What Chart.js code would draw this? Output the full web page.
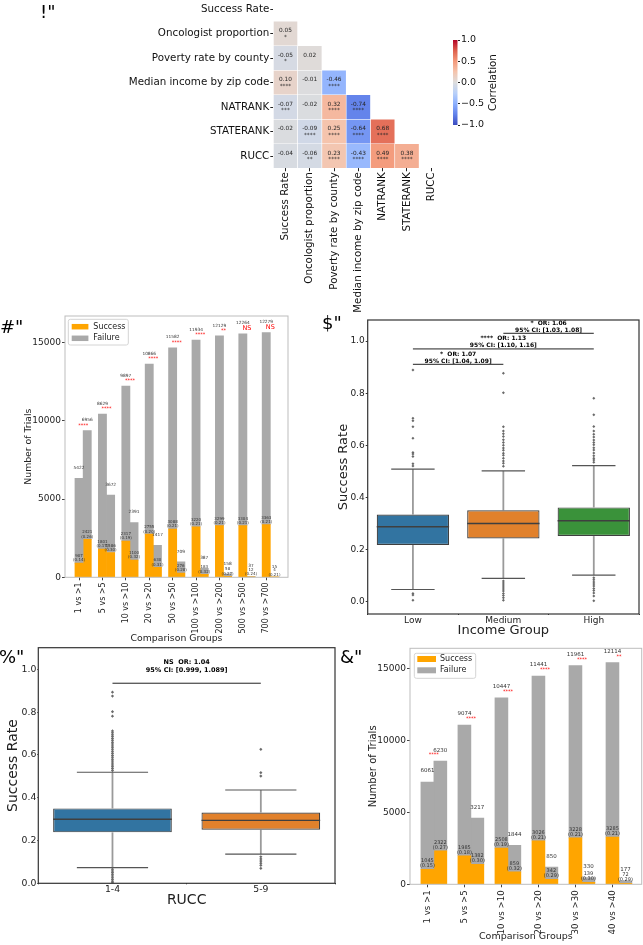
<!DOCTYPE html>
<html>
<head>
<meta charset="utf-8">
<title>Trial success figure</title>
<script src="https://cdn.jsdelivr.net/npm/chart.js@4.4.1/dist/chart.umd.min.js"></script>
<style>
  html, body { margin: 0; padding: 0; background: #fff; }
  body { position: relative; width: 643px; height: 945px; overflow: hidden; font-family: "DejaVu Sans", sans-serif; }
  canvas { position: absolute; }
  .tag { position: absolute; font-size: 18px; line-height: 18px; color: #000; }
</style>
</head>
<body>
<canvas id="heat" width="460" height="330" style="left:0;top:-10px"></canvas>
<canvas id="cbar" width="80" height="110" style="left:440px;top:30px"></canvas>
<canvas id="trials1" width="300" height="350" style="left:0;top:300px"></canvas>
<canvas id="income" width="323" height="345" style="left:320px;top:300px"></canvas>
<canvas id="rucc" width="340" height="305" style="left:0;top:640px"></canvas>
<canvas id="trials2" width="303" height="305" style="left:340px;top:640px"></canvas>
<div class="tag" style="left:40px;top:3px">!"</div>
<div class="tag" style="left:0;top:318px">#"</div>
<div class="tag" style="left:322px;top:314px">$"</div>
<div class="tag" style="left:-1px;top:648px">%"</div>
<div class="tag" style="left:340px;top:648px">&amp;"</div>

<script>
// ===== DATA: PANEL A (correlation heatmap) =====
const corrLabels = ['Success Rate', 'Oncologist proportion', 'Poverty rate by county',
  'Median income by zip code', 'NATRANK', 'STATERANK', 'RUCC'];
const corrValues = [
  [],
  [0.05],
  [-0.05, 0.02],
  [0.10, -0.01, -0.46],
  [-0.07, -0.02, 0.32, -0.74],
  [-0.02, -0.09, 0.25, -0.64, 0.68],
  [-0.04, -0.06, 0.23, -0.43, 0.49, 0.38]
];
const corrStars = [
  [],
  ['*'],
  ['*', ''],
  ['****', '', '****'],
  ['***', '', '****', '****'],
  ['', '****', '****', '****', '****'],
  ['', '**', '****', '****', '****', '****']
];
const cbTicks = [-1, -0.5, 0, 0.5, 1];

// ===== DATA: PANEL B (trials, 1..700) =====
const bGroups = ['1 vs >1', '5 vs >5', '10 vs >10', '20 vs >20', '50 vs >50',
  '100 vs >100', '200 vs >200', '500 vs >500', '700 vs >700'];
const bLeftSuccess = [907, 1801, 2317, 2755, 3088, 3220, 3299, 3304, 3363];
const bLeftFailure = [5422, 8629, 9897, 10866, 11582, 11934, 12129, 12264, 12279];
const bRightSuccess = [2421, 1586, 1100, 630, 276, 183, 58, 12, 4];
const bRightFailure = [6956, 3672, 2391, 1417, 709, 387, 158, 37, 15];
const bStars = ['****', '****', '****', '****', '****', '****', '**', 'NS', 'NS'];

// ===== DATA: PANEL C (income group boxplot) =====
const incomeGroups = ['Low', 'Medium', 'High'];
const incomeWhiskerLow = [0.047, 0.090, 0.102];
const incomeQ1 = [0.218, 0.243, 0.252];
const incomeMedian = [0.288, 0.300, 0.311];
const incomeQ3 = [0.335, 0.351, 0.362];
const incomeWhiskerHigh = [0.509, 0.502, 0.522];
const incomeOutliers = [
  [0.889, 0.704, 0.694, 0.671, 0.627, 0.573, 0.567, 0.557, 0.529, 0.521, 0.032, 0.026, 0.006],
  [0.877, 0.802, 0.671, 0.655, 0.645, 0.634, 0.622, 0.611, 0.600, 0.590, 0.581, 0.570, 0.562,
    0.551, 0.540, 0.531, 0.520, 0.080, 0.072, 0.064, 0.057, 0.049, 0.041, 0.032, 0.024, 0.015, 0.006],
  [0.781, 0.717, 0.672, 0.655, 0.643, 0.632, 0.621, 0.611, 0.602, 0.591, 0.582, 0.571, 0.560,
    0.551, 0.544, 0.535, 0.092, 0.084, 0.076, 0.068, 0.060, 0.051, 0.043, 0.034, 0.022, 0.004]
];
const incomePairs = [[0, 1], [0, 2], [1, 2]];
const incomePairY = [0.911, 0.970, 1.030];
const incomePairText = [
  ['*  OR: 1.07', '95% CI: [1.04, 1.09]'],
  ['****  OR: 1.13', '95% CI: [1.10, 1.16]'],
  ['*  OR: 1.06', '95% CI: [1.03, 1.08]']
];
const rateTicks = [0, 0.2, 0.4, 0.6, 0.8, 1.0];

// ===== DATA: PANEL D (trials, 1..40) =====
const dGroups = ['1 vs >1', '5 vs >5', '10 vs >10', '20 vs >20', '30 vs >30', '40 vs >40'];
const dLeftSuccess = [1045, 1985, 2508, 3026, 3228, 3285];
const dLeftFailure = [6061, 9074, 10447, 11441, 11961, 12114];
const dRightSuccess = [2322, 1382, 859, 342, 139, 72];
const dRightFailure = [6230, 3217, 1844, 850, 330, 177];
const dStars = ['****', '****', '****', '****', '****', '**'];
const trialTicks = [0, 5000, 10000, 15000];

// ===== DATA: PANEL E (RUCC boxplot) =====
const ruccGroups = ['1-4', '5-9'];
const ruccWhiskerLow = [0.073, 0.136];
const ruccQ1 = [0.238, 0.250];
const ruccMedian = [0.299, 0.294];
const ruccQ3 = [0.350, 0.331];
const ruccWhiskerHigh = [0.519, 0.436];
const ruccOutliers = [
  [0.893, 0.875, 0.802, 0.781, 0.712, 0.703, 0.694, 0.686, 0.677, 0.668, 0.659, 0.651, 0.642,
    0.633, 0.624, 0.615, 0.606, 0.597, 0.589, 0.580, 0.571, 0.562, 0.553, 0.545, 0.536, 0.527,
    0.066, 0.058, 0.050, 0.042, 0.034, 0.026, 0.018, 0.010, 0.003],
  [0.626, 0.517, 0.501, 0.124, 0.114, 0.104, 0.094, 0.084, 0.070]
];
const ruccPairs = [[0, 1]];
const ruccPairY = [0.935];
const ruccPairText = [['NS  OR: 1.04', '95% CI: [0.999, 1.089]']];

// ===== SHARED SETUP =====
Chart.defaults.font.family = '"DejaVu Sans", sans-serif';
Chart.defaults.color = '#222';
Chart.defaults.animation = false;
Chart.defaults.responsive = false;
Chart.defaults.plugins.legend.display = false;
Chart.defaults.plugins.tooltip.enabled = false;

const ORANGE = '#ffa500';
const GRAY = '#a9a9a9';

// coolwarm colour stops
const COOLWARM = [
  [-1, [59, 76, 192]], [-0.75, [98, 130, 234]], [-0.5, [141, 176, 254]], [-0.25, [184, 208, 249]],
  [0, [221, 221, 221]], [0.25, [245, 196, 173]], [0.5, [244, 154, 123]], [0.75, [222, 96, 77]],
  [1, [180, 4, 38]]
];
function coolwarm(v) {
  for (let k = 1; k < COOLWARM.length; k++) {
    const [v0, c0] = COOLWARM[k - 1], [v1, c1] = COOLWARM[k];
    if (v <= v1) {
      const t = (v - v0) / (v1 - v0);
      return 'rgb(' + c0.map((c, n) => Math.round(c + (c1[n] - c) * t)).join(',') + ')';
    }
  }
  return 'rgb(180,4,38)';
}

function font(size, bold) {
  return (bold ? 'bold ' : '') + size + 'px "DejaVu Sans", sans-serif';
}

function stroke(ctx, x1, y1, x2, y2) {
  ctx.beginPath();
  ctx.moveTo(x1, y1);
  ctx.lineTo(x2, y2);
  ctx.stroke();
}

// pin axis size so the plot area lands where the reference has it
function fixAxis(size, horizontal) {
  return s => {
    if (horizontal) s.height = size; else s.width = size;
    s.paddingLeft = s.paddingRight = s.paddingTop = s.paddingBottom = 0;
  };
}

const framePlugin = {
  id: 'frame',
  afterDraw(chart, args, o) {
    if (!o.color) return;
    const {ctx, chartArea: a} = chart;
    ctx.save();
    ctx.strokeStyle = o.color;
    ctx.lineWidth = o.width || 1;
    ctx.strokeRect(a.left, a.top, a.right - a.left, a.bottom - a.top);
    ctx.restore();
  }
};

// ===== PANEL A: HEATMAP =====
const cellText = {
  id: 'cellText',
  afterDatasetsDraw(chart) {
    const {ctx, scales: {x, y}} = chart;
    ctx.save();
    ctx.fillStyle = '#262626';
    ctx.textAlign = 'center';
    ctx.textBaseline = 'middle';
    ctx.font = font(5.8);
    corrValues.forEach((row, i) => row.forEach((v, j) => {
      const px = x.getPixelForValue(j), py = y.getPixelForValue(i);
      ctx.fillText(v.toFixed(2), px, py - 3);
      ctx.fillText(corrStars[i][j], px, py + 3.5);
    }));
    ctx.restore();
  }
};

new Chart(document.getElementById('heat'), {
  type: 'bar',
  data: {
    datasets: corrValues.map((row, i) => ({
      data: row.map((v, j) => ({x: j, y: [i - 0.5, i + 0.5]})),
      backgroundColor: row.map(coolwarm),
      borderColor: '#fff',
      borderWidth: 0.6,
      borderSkipped: false,
      grouped: false,
      barPercentage: 1,
      categoryPercentage: 1
    }))
  },
  options: {
    layout: {padding: {left: 0, right: 16.6, top: 6.75, bottom: 0}},
    scales: {
      x: {
        type: 'linear', min: -0.5, max: 6.5, offset: false,
        afterBuildTicks: s => { s.ticks = corrLabels.map((l, j) => ({value: j})); },
        afterFit: fixAxis(151.75, true),
        ticks: {autoSkip: false, minRotation: 90, maxRotation: 90, padding: 1,
          font: {size: 10.3}, color: '#111', callback: v => corrLabels[v]},
        grid: {drawOnChartArea: false, offset: false, tickLength: 3, color: '#222'},
        border: {display: false}
      },
      y: {
        type: 'linear', reverse: true, min: -0.5, max: 6.5,
        afterBuildTicks: s => { s.ticks = corrLabels.map((l, i) => ({value: i})); },
        afterFit: fixAxis(273.3, false),
        ticks: {padding: 1, font: {size: 10.3}, color: '#111', callback: v => corrLabels[v]},
        grid: {drawOnChartArea: false, tickLength: 3, color: '#222'},
        border: {display: false}
      }
    }
  },
  plugins: [cellText]
});

// colour bar
const cbFill = {
  id: 'cbFill',
  beforeDatasetsDraw(chart) {
    const {ctx, chartArea: a, scales: {y}} = chart;
    const g = ctx.createLinearGradient(0, y.getPixelForValue(-1), 0, y.getPixelForValue(1));
    COOLWARM.forEach(([v, c]) => g.addColorStop((v + 1) / 2, 'rgb(' + c.join(',') + ')'));
    ctx.save();
    ctx.fillStyle = g;
    ctx.fillRect(a.left, a.top, a.right - a.left, a.bottom - a.top);
    ctx.translate(53, (a.top + a.bottom) / 2);
    ctx.rotate(-Math.PI / 2);
    ctx.fillStyle = '#111';
    ctx.font = font(10.3);
    ctx.textAlign = 'center';
    ctx.textBaseline = 'middle';
    ctx.fillText('Correlation', 0, 0);
    ctx.restore();
  }
};

new Chart(document.getElementById('cbar'), {
  type: 'bar',
  data: {labels: [''], datasets: []},
  options: {
    layout: {padding: {left: 13, right: 0, top: 10, bottom: 15}},
    scales: {
      x: {display: false},
      y: {
        position: 'right', min: -1, max: 1,
        afterBuildTicks: s => { s.ticks = cbTicks.map(v => ({value: v})); },
        afterFit: fixAxis(62.5, false),
        ticks: {padding: 1, font: {size: 9.5}, color: '#111',
          callback: v => (v < 0 ? '\u2212' : '') + Math.abs(v).toFixed(1)},
        grid: {drawOnChartArea: false, tickLength: 2.5, color: '#222'},
        border: {display: false}
      }
    }
  },
  plugins: [cbFill]
});

// ===== PANELS B & D: STACKED TRIAL BARS =====
function trialsChart(id, groups, lS, lF, rS, rF, stars, st) {
  const W = 0.35;
  const pts = (arr, off) => arr.map((v, i) => ({x: i + off, y: v}));

  const labels = {
    id: 'trialLabels',
    afterDatasetsDraw(chart) {
      const {ctx, scales: {x, y}} = chart;
      ctx.save();
      ctx.textAlign = 'center';
      ctx.textBaseline = 'middle';
      groups.forEach((g, i) => {
        let top = 0;
        [[i, lS[i], lF[i]], [i + W, rS[i], rF[i]]].forEach(([xv, s, f]) => {
          const px = x.getPixelForValue(xv), tot = s + f;
          top = Math.max(top, tot);
          ctx.fillStyle = '#333';
          ctx.font = font(st.failFont);
          ctx.fillText(String(f), px, y.getPixelForValue(tot) - st.failOffset);
          const ys = y.getPixelForValue(s);
          ctx.font = font(st.succFont);
          ctx.fillText(String(s), px, ys - st.succGap - st.succLine);
          ctx.fillText('(' + (s / tot).toFixed(2) + ')', px, ys - st.succGap);
        });
        ctx.fillStyle = 'red';
        ctx.font = font(stars[i] === 'NS' ? st.nsFont : st.starFont);
        ctx.fillText(stars[i], x.getPixelForValue(i + W / 2), y.getPixelForValue(top) - st.starOffset);
      });
      ctx.restore();
    }
  };

  const legendBox = {
    id: 'legendBox',
    afterDraw(chart) {
      const {ctx, chartArea: a} = chart, L = st.legend;
      ctx.save();
      ctx.fillStyle = 'rgba(255,255,255,0.85)';
      ctx.strokeStyle = '#d4d4d4';
      ctx.lineWidth = 1;
      ctx.beginPath();
      ctx.roundRect(a.left + L.x, a.top + L.y, L.w, L.h, 2);
      ctx.fill();
      ctx.stroke();
      chart.data.datasets.slice(0, 2).forEach((ds, k) => {
        const cy = a.top + L.rows[k];
        ctx.fillStyle = ds.backgroundColor;
        ctx.fillRect(a.left + L.patchX, cy - L.patchH / 2, L.patchW, L.patchH);
        ctx.fillStyle = '#222';
        ctx.font = font(L.font);
        ctx.textAlign = 'left';
        ctx.textBaseline = 'middle';
        ctx.fillText(ds.label, a.left + L.textX, cy);
      });
      ctx.restore();
    }
  };

  new Chart(document.getElementById(id), {
    type: 'bar',
    data: {
      datasets: [
        {label: 'Success', data: pts(lS, 0), backgroundColor: ORANGE},
        {label: 'Failure', data: pts(lF, 0), backgroundColor: GRAY},
        {label: 'Success', data: pts(rS, W), backgroundColor: ORANGE},
        {label: 'Failure', data: pts(rF, W), backgroundColor: GRAY}
      ]
    },
    options: {
      datasets: {bar: {barPercentage: 1, categoryPercentage: 1}},
      layout: {padding: st.padding},
      scales: {
        x: {
          type: 'linear', stacked: true, min: st.xMin, max: st.xMax, offset: false,
          afterBuildTicks: s => { s.ticks = groups.map((g, i) => ({value: i})); },
          afterFit: fixAxis(st.xHeight, true),
          ticks: {autoSkip: false, minRotation: 90, maxRotation: 90, padding: st.xTickPad,
            font: {size: st.xTickFont}, callback: v => groups[v]},
          grid: {drawOnChartArea: false, offset: false, tickLength: 3, color: '#444'},
          border: {display: false},
          title: {display: true, text: 'Comparison Groups', font: {size: st.xTitleFont},
            padding: {top: 0, bottom: st.xTitlePad}}
        },
        y: {
          stacked: true, min: 0, max: st.yMax,
          afterBuildTicks: s => { s.ticks = trialTicks.map(v => ({value: v})); },
          afterFit: fixAxis(st.yWidth, false),
          ticks: {padding: 1, font: {size: st.yTickFont}, callback: v => String(v)},
          grid: {drawOnChartArea: false, tickLength: 3, color: '#444'},
          border: {display: false},
          title: {display: true, text: 'Number of Trials', font: {size: st.yTitleFont},
            padding: {top: st.yTitlePad, bottom: 0}}
        }
      },
      plugins: {frame: {color: '#bdbdbd'}}
    },
    plugins: [framePlugin, labels, legendBox]
  });
}

trialsChart('trials1', bGroups, bLeftSuccess, bLeftFailure, bRightSuccess, bRightFailure, bStars, {
  xMin: -0.6, xMax: 8.93, yMax: 16700,
  padding: {left: 0, right: 12, top: 16, bottom: 0},
  yWidth: 65, xHeight: 72.7,
  xTickFont: 8, yTickFont: 9, xTickPad: 2,
  xTitleFont: 9.3, xTitlePad: 5.4, yTitleFont: 9.3, yTitlePad: 23.4,
  failFont: 4.3, succFont: 4, starFont: 5, nsFont: 6.5,
  failOffset: 10.5, succGap: 2.7, succLine: 4.3, starOffset: 5,
  legend: {x: 3.3, y: 3.3, w: 60, h: 25.7, font: 8, rows: [10.7, 22.3],
    patchX: 6.7, patchW: 16.7, patchH: 5.5, textX: 28.3}
});

trialsChart('trials2', dGroups, dLeftSuccess, dLeftFailure, dRightSuccess, dRightFailure, dStars, {
  xMin: -0.47, xMax: 5.79, yMax: 16390,
  padding: {left: 0, right: 1.3, top: 8.3, bottom: 0},
  yWidth: 70, xHeight: 60.7,
  xTickFont: 8.6, yTickFont: 9, xTickPad: 3,
  xTitleFont: 9.5, xTitlePad: 2.3, yTitleFont: 10, yTitlePad: 27.3,
  failFont: 5.5, succFont: 5, starFont: 5, nsFont: 6.5,
  failOffset: 11, succGap: 3.2, succLine: 5.2, starOffset: 6,
  legend: {x: 4.3, y: 5, w: 61.4, h: 25, font: 8, rows: [10.7, 22],
    patchX: 7.3, patchW: 18.7, patchH: 6, textX: 30}
});

// ===== PANELS C & E: BOXPLOTS =====
function boxChart(id, groups, wLo, q1, med, q3, wHi, outliers, colors, pairs, pairY, pairText, st) {
  const extras = {
    id: 'boxExtras',
    beforeDatasetsDraw(chart) {
      const {ctx, scales: {x, y}} = chart;
      const boxes = chart.getDatasetMeta(0).data;
      ctx.save();
      groups.forEach((g, k) => {
        const cx = x.getPixelForValue(k);
        const half = boxes[k].width * 0.3;
        ctx.strokeStyle = '#9a9a9a';
        ctx.lineWidth = 1.8;
        stroke(ctx, cx, y.getPixelForValue(wLo[k]), cx, y.getPixelForValue(q1[k]));
        stroke(ctx, cx, y.getPixelForValue(q3[k]), cx, y.getPixelForValue(wHi[k]));
        ctx.strokeStyle = '#555';
        ctx.lineWidth = 1.2;
        [wLo[k], wHi[k]].forEach(v => stroke(ctx, cx - half, y.getPixelForValue(v), cx + half, y.getPixelForValue(v)));
      });
      ctx.restore();
    },
    afterDatasetsDraw(chart) {
      const {ctx, scales: {y}} = chart;
      ctx.save();
      ctx.strokeStyle = '#3f3f3f';
      ctx.lineWidth = 1.4;
      chart.getDatasetMeta(0).data.forEach((b, k) => {
        const py = y.getPixelForValue(med[k]);
        stroke(ctx, b.x - b.width / 2, py, b.x + b.width / 2, py);
      });
      ctx.restore();
    },
    afterDraw(chart) {
      const {ctx, scales: {x, y}} = chart;
      ctx.save();
      ctx.strokeStyle = '#222';
      ctx.lineWidth = 1;
      ctx.fillStyle = '#000';
      ctx.textAlign = 'center';
      ctx.textBaseline = 'middle';
      ctx.font = font(st.pairFont, true);
      pairs.forEach(([a, b], p) => {
        const x1 = x.getPixelForValue(a), x2 = x.getPixelForValue(b), py = y.getPixelForValue(pairY[p]);
        stroke(ctx, x1, py, x2, py);
        ctx.fillText(pairText[p][0], (x1 + x2) / 2, py - st.pairText[0]);
        ctx.fillText(pairText[p][1], (x1 + x2) / 2, py - st.pairText[1]);
      });
      ctx.restore();
    }
  };

  new Chart(document.getElementById(id), {
    type: 'bar',
    data: {
      labels: groups,
      datasets: [
        {data: groups.map((g, k) => [q1[k], q3[k]]), backgroundColor: colors, borderColor: '#3f3f3f',
          borderWidth: 1.2, borderSkipped: false, barPercentage: 0.8, categoryPercentage: 1},
        {type: 'line', showLine: false,
          data: outliers.flatMap((list, k) => list.map(v => ({x: groups[k], y: v}))),
          pointStyle: 'rectRot', pointRadius: st.flier, pointBackgroundColor: '#6a6a6a', pointBorderWidth: 0}
      ]
    },
    options: {
      layout: {padding: st.padding},
      scales: {
        x: {
          afterFit: fixAxis(st.xHeight, true),
          ticks: {padding: 0, font: {size: st.tickFont}},
          grid: {drawOnChartArea: false, tickLength: 1, color: '#333'},
          border: {display: false},
          title: {display: true, text: st.xTitle, font: {size: st.titleFont},
            padding: {top: 0, bottom: st.xTitlePad}}
        },
        y: {
          min: st.yMin, max: st.yMax,
          afterBuildTicks: s => { s.ticks = rateTicks.map(v => ({value: v})); },
          afterFit: fixAxis(st.yWidth, false),
          ticks: {padding: 1, font: {size: st.tickFont}, callback: v => v.toFixed(1)},
          grid: {drawOnChartArea: false, tickLength: st.yTickLen, color: '#333'},
          border: {display: false},
          title: {display: true, text: 'Success Rate', font: {size: st.titleFont},
            padding: {top: st.yTitlePad, bottom: 0}}
        }
      },
      plugins: {frame: {color: '#333', width: 1.2}}
    },
    plugins: [framePlugin, extras]
  });
}

boxChart('income', incomeGroups, incomeWhiskerLow, incomeQ1, incomeMedian, incomeQ3, incomeWhiskerHigh,
  incomeOutliers, ['#3274a1', '#e1812c', '#3a923a'], incomePairs, incomePairY, incomePairText, {
    padding: {left: 0, right: 2, top: 20, bottom: 0},
    yWidth: 47.7, xHeight: 31, yMin: -0.047, yMax: 1.081, yTickLen: 2,
    tickFont: 9, titleFont: 13, yTitlePad: 16.2, xTitlePad: 6.5, xTitle: 'Income Group',
    pairFont: 6, pairText: [10.3, 3.3], flier: 1.5
  });

boxChart('rucc', ruccGroups, ruccWhiskerLow, ruccQ1, ruccMedian, ruccQ3, ruccWhiskerHigh,
  ruccOutliers, ['#3274a1', '#e1812c'], ruccPairs, ruccPairY, ruccPairText, {
    padding: {left: 0, right: 5, top: 7.7, bottom: 0},
    yWidth: 38.3, xHeight: 61.7, yMin: 0, yMax: 1.101, yTickLen: 1,
    tickFont: 9.3, titleFont: 14, yTitlePad: 5.1, xTitlePad: 35.9, xTitle: 'RUCC',
    pairFont: 6.5, pairText: [21, 13.3], flier: 1.6
  });
</script>
</body>
</html>
